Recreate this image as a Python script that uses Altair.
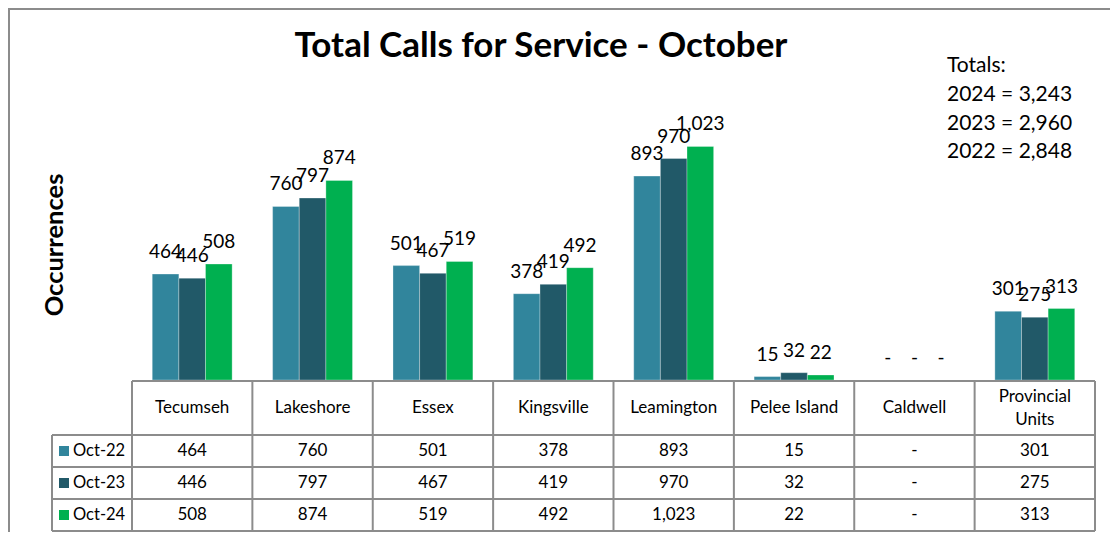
import altair as alt
import pandas as pd

# ---------------- data ----------------
CATEGORIES = ["Tecumseh", "Lakeshore", "Essex", "Kingsville", "Leamington",
              "Pelee Island", "Caldwell", "Provincial Units"]
HEADER_LABELS = ["Tecumseh", "Lakeshore", "Essex", "Kingsville", "Leamington",
                 "Pelee Island", "Caldwell", "Provincial\nUnits"]
SERIES = ["Oct-22", "Oct-23", "Oct-24"]
OCT22 = [464, 760, 501, 378, 893, 15, 0, 301]
OCT23 = [446, 797, 467, 419, 970, 32, 0, 275]
OCT24 = [508, 874, 519, 492, 1023, 22, 0, 313]
COLORS = ["#31859C", "#215968", "#00B050"]
TITLE = "Total Calls for Service - October"
Y_TITLE = "Occurrences"
TOTALS_LINES = ["Totals:", "2024 = 3,243", "2023 = 2,960", "2022 = 2,848"]

# ---------------- layout constants ----------------
FONT = "Lato"
W, H = 963, 274
PAD = {"left": 124, "top": 98, "right": 15, "bottom": 152}
HEADER_H = 54
ROW_H = 32
LEGEND_W = 80
GRID = "#8c8c8c"
TABLE_FS = 17
LINE_H = 23

rows = []
for s, vals in zip(SERIES, [OCT22, OCT23, OCT24]):
    for c, v in zip(CATEGORIES, vals):
        rows.append({"cat": c, "series": s, "value": v,
                     "label": f"{v:,}" if v else "-"})
df = pd.DataFrame(rows)

x_enc = alt.X("cat:N", sort=CATEGORIES, axis=None,
              scale=alt.Scale(paddingInner=0, paddingOuter=0))
xoff = alt.XOffset("series:N", sort=SERIES,
                   scale=alt.Scale(paddingInner=0, paddingOuter=0.76))
color = alt.Color("series:N", sort=SERIES,
                  scale=alt.Scale(domain=SERIES, range=COLORS), legend=None)
y_enc = alt.Y("value:Q", axis=None, scale=alt.Scale(domain=[0, 1200]))

one = pd.DataFrame({"k": [0]})

# outer border
border = alt.Chart(one).mark_rect(fill="white", fillOpacity=0, stroke=GRID,
                                  strokeWidth=2).encode(
    x=alt.value(-PAD["left"] + 1), x2=alt.value(W + 200),
    y=alt.value(-PAD["top"] + 1), y2=alt.value(H + 400))

bars = alt.Chart(df).mark_bar(stroke="white", strokeWidth=0.6,
                              strokeOpacity=0.5).encode(
    x=x_enc, xOffset=xoff, y=y_enc, color=color)

bar_labels = alt.Chart(df).mark_text(font=FONT, fontSize=19, color="#000000",
                                     baseline="alphabetic", dy=-16).encode(
    x=x_enc, xOffset=xoff, y=y_enc, text="label:N")

# table
t_top = H + 1
row_lines = [t_top, t_top + HEADER_H] + [t_top + HEADER_H + ROW_H * (i + 1)
                                         for i in range(len(SERIES))]
t_bot = row_lines[-1]
step = W / len(CATEGORIES)

layers = [border, bars, bar_labels]

# horizontal grid lines
for i, yy in enumerate(row_lines):
    x_start = 0 if i == 0 else -LEGEND_W
    layers.append(alt.Chart(one).mark_rule(color=GRID, strokeWidth=2).encode(
        x=alt.value(x_start), x2=alt.value(W), y=alt.value(yy)))
# vertical grid lines
for k in range(len(CATEGORIES) + 1):
    layers.append(alt.Chart(one).mark_rule(color=GRID, strokeWidth=2).encode(
        x=alt.value(k * step), y=alt.value(t_top), y2=alt.value(t_bot)))
layers.append(alt.Chart(one).mark_rule(color=GRID, strokeWidth=2).encode(
    x=alt.value(-LEGEND_W), y=alt.value(t_top + HEADER_H), y2=alt.value(t_bot)))

# header labels (grouped by number of lines so each block is centred)
head_df = pd.DataFrame({"cat": CATEGORIES, "head": HEADER_LABELS})
head_df["n"] = head_df["head"].str.count("\n") + 1
for n, grp in head_df.groupby("n"):
    layers.append(alt.Chart(grp).mark_text(
        font=FONT, fontSize=TABLE_FS, color="#000000", baseline="middle",
        lineBreak="\n", lineHeight=LINE_H, dy=-(n - 1) * LINE_H / 2).encode(
        x=x_enc, y=alt.value(t_top + HEADER_H / 2), text="head:N"))

# data rows + legend keys
for i, s in enumerate(SERIES):
    yc = t_top + HEADER_H + ROW_H * i + ROW_H / 2
    sub = df[df["series"] == s]
    layers.append(alt.Chart(sub).mark_text(
        font=FONT, fontSize=TABLE_FS, color="#000000", baseline="middle").encode(
        x=x_enc, y=alt.value(yc), text="label:N"))
    key = pd.DataFrame({"series": [s]})
    layers.append(alt.Chart(key).mark_square(size=100, opacity=1).encode(
        x=alt.value(-68), y=alt.value(yc), color=color))
    layers.append(alt.Chart(key).mark_text(
        font=FONT, fontSize=16.5, color="#000000", align="left",
        baseline="middle").encode(
        x=alt.value(-59), y=alt.value(yc), text="series:N"))

# title
layers.append(alt.Chart(pd.DataFrame({"t": [TITLE]})).mark_text(
    font=FONT, fontSize=35, fontWeight="bold", color="#000000",
    baseline="alphabetic", align="center").encode(
    x=alt.value(409), y=alt.value(-49), text="t:N"))

# y title
layers.append(alt.Chart(pd.DataFrame({"t": [Y_TITLE]})).mark_text(
    font=FONT, fontSize=25.5, fontWeight="bold", color="#000000",
    baseline="alphabetic", align="center", angle=270).encode(
    x=alt.value(-69), y=alt.value(139), text="t:N"))

# totals
for i, line in enumerate(TOTALS_LINES):
    layers.append(alt.Chart(pd.DataFrame({"t": [line]})).mark_text(
        font=FONT, fontSize=21, color="#000000", baseline="alphabetic",
        align="left").encode(
        x=alt.value(815), y=alt.value(-34 + 28.8 * i), text="t:N"))

chart = alt.layer(*layers).properties(
    width=W, height=H,
    autosize=alt.AutoSizeParams(type="none"),
    padding=PAD,
).configure_view(stroke=None)

chart.save("out.html", embed_options={"renderer": "svg", "actions": False})
